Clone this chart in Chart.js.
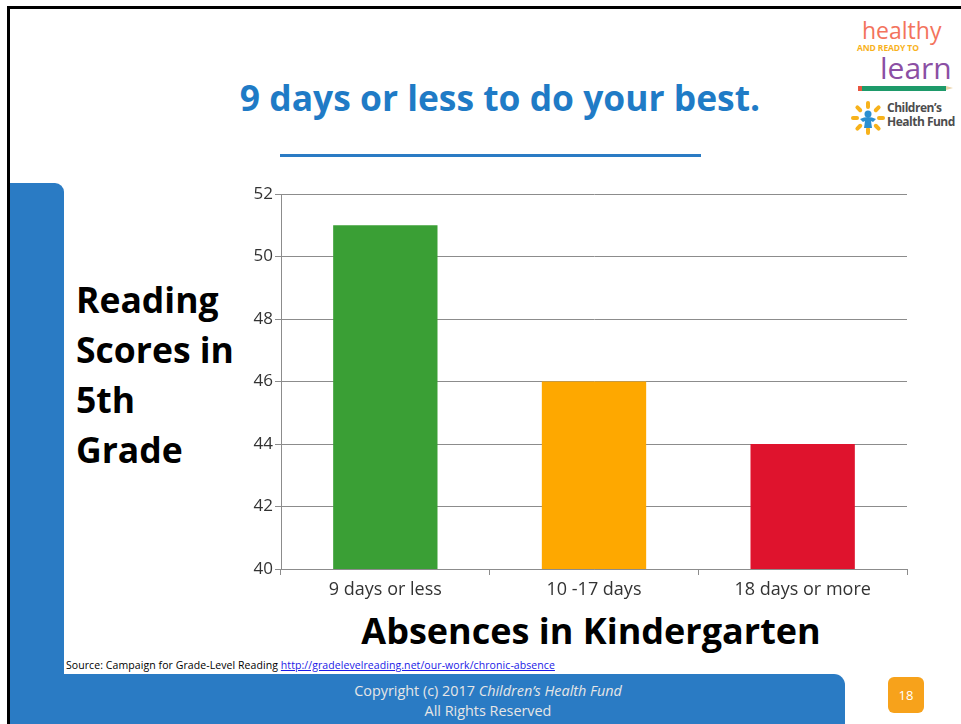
<!DOCTYPE html>
<html>
<head>
<meta charset="utf-8">
<script src="https://cdn.jsdelivr.net/npm/chart.js@4.4.1/dist/chart.umd.min.js"></script>
<style>
  html, body { margin:0; padding:0; background:#fff; }
  body { width:961px; height:724px; position:relative; overflow:hidden; font-family:"Open Sans", sans-serif; }
  .abs { position:absolute; }
  #frameTop { left:7px; top:6px; width:954px; height:3px; background:#000; }
  #frameLeft { left:7px; top:6px; width:3px; height:718px; background:#000; }
  #leftPanel { left:10px; top:183px; width:54px; height:541px; background:#2a7bc4; border-top-right-radius:9px; }
  #bottomBar { left:10px; top:674px; width:835px; height:50px; background:#2a7bc4; border-top-right-radius:11px; }
  #title { left:150px; width:700px; top:73px; text-align:center; color:#1f7bc6; font-weight:700; font-size:35.4px; line-height:48px; }
  #titleRule { left:280px; top:154px; width:421px; height:3px; background:#2a7bc4; }
  #ylabel { left:76px; top:274px; color:#000; font-weight:700; font-size:35.5px; line-height:50px; }
  #xlabel { left:291px; width:600px; top:606px; text-align:center; color:#000; font-weight:700; font-size:36px; line-height:50px; }
  #source { left:66px; top:657px; font-size:10.5px; letter-spacing:0.08px; color:#000; white-space:nowrap; line-height:16px; }
  #source a { color:#1a1ae6; text-decoration:underline; }
  #copy { left:130px; width:716px; top:681px; text-align:center; color:#e6e6e6; font-size:14.4px; line-height:20px; }
  #pageNo { left:888px; top:677px; width:36px; height:36px; background:#f7a21b; border-radius:6px; color:#fff; font-size:13px; text-align:center; line-height:36px; }
  #chartWrap { left:200px; top:180px; width:720px; height:480px; }
  #logo1 { left:862px; top:14px; font-size:23px; color:#f3735d; line-height:32px; }
  #logo2 { left:857px; top:43px; font-size:8.5px; font-weight:700; color:#f8b21c; line-height:10px; letter-spacing:-0.1px; }
  #logo3 { left:880px; top:48px; font-size:30px; color:#8b4fa4; line-height:40px; }
  #pencil { left:862px; top:86px; width:84px; height:5px; background:#1e9a6a; }
  #pencilTip { left:858px; top:86px; width:5px; height:5px; background:#e8553f; }
  #pencilEnd { left:946px; top:86px; width:0; height:0; border-top:2.5px solid transparent; border-bottom:2.5px solid transparent; border-left:7px solid #e9d3a8; }
  #chf { left:887px; top:101px; font-size:12px; font-weight:700; color:#4d4d4d; line-height:14px; letter-spacing:-0.5px; }
</style>
</head>
<body>
<div class="abs" id="frameTop"></div>
<div class="abs" id="frameLeft"></div>
<div class="abs" id="leftPanel"></div>
<div class="abs" id="bottomBar"></div>
<div class="abs" id="title">9 days or less to do your best.</div>
<div class="abs" id="titleRule"></div>
<div class="abs" id="ylabel">Reading<br>Scores in<br>5th<br>Grade</div>
<div class="abs" id="xlabel">Absences in Kindergarten</div>
<div class="abs" id="source">Source: Campaign for Grade-Level Reading <a>http://gradelevelreading.net/our-work/chronic-absence</a></div>
<div class="abs" id="copy">Copyright (c) 2017 <i>Children’s Health Fund</i><br>All Rights Reserved</div>
<div class="abs" id="pageNo">18</div>

<div class="abs" id="logo1">healthy</div>
<div class="abs" id="logo2">AND READY TO</div>
<div class="abs" id="logo3">learn</div>
<div class="abs" id="pencilTip"></div>
<div class="abs" id="pencil"></div>
<div class="abs" id="pencilEnd"></div>
<svg class="abs" style="left:851px;top:101px" width="34" height="34" viewBox="0 0 34 34">
  <g fill="#f7b21b">
    <rect x="15" y="0" width="4" height="8" rx="2"/>
    <rect x="15" y="26" width="4" height="8" rx="2"/>
    <rect x="0" y="15" width="8" height="4" rx="2"/>
    <rect x="26" y="15" width="8" height="4" rx="2"/>
    <rect x="15" y="0" width="4" height="8" rx="2" transform="rotate(45 17 17)"/>
    <rect x="15" y="0" width="4" height="8" rx="2" transform="rotate(-45 17 17)"/>
    <rect x="15" y="26" width="4" height="8" rx="2" transform="rotate(45 17 17)"/>
    <rect x="15" y="26" width="4" height="8" rx="2" transform="rotate(-45 17 17)"/>
  </g>
  <circle cx="17" cy="13" r="3.5" fill="#2b8fd0"/>
  <path d="M9 18 Q17 14 25 18 L22 21 L20 20 L21 27 L13 27 L14 20 L12 21 Z" fill="#2b8fd0"/>
</svg>
<div class="abs" id="chf">Children’s<br>Health Fund</div>

<div class="abs" id="chartWrap"><canvas id="c" width="720" height="480"></canvas></div>

<script>
const categories = ["9 days or less", "10 -17 days", "18 days or more"];
const readingScores = [51, 46, 44];
const barColors = ["#3a9f35", "#fea800", "#df132d"];
const yTicks = [40, 42, 44, 46, 48, 50, 52];

const tickFont = { family: "Open Sans", size: 17 };

new Chart(document.getElementById("c"), {
  type: "bar",
  data: {
    labels: categories,
    datasets: [{
      data: readingScores,
      backgroundColor: barColors,
      borderWidth: 0,
      categoryPercentage: 1.0,
      barPercentage: 0.5
    }]
  },
  options: {
    responsive: false,
    animation: false,
    layout: { padding: { top: 14, right: 13, left: 0, bottom: 0 } },
    plugins: { legend: { display: false }, tooltip: { enabled: false }, title: { display: false } },
    scales: {
      y: {
        min: yTicks[0],
        max: yTicks[yTicks.length - 1],
        afterBuildTicks: (s) => { s.ticks = yTicks.map(v => ({ value: v })); },
        afterFit: (s) => { s.width = 81; },
        ticks: { color: "#333333", font: tickFont, padding: 2 },
        grid: { color: "#8c8c8c", lineWidth: 1, tickLength: 6, drawTicks: true },
        border: { color: "#8c8c8c", width: 1 }
      },
      x: {
        afterFit: (s) => { s.height = 91; },
        ticks: { color: "#333333", font: { family: "Open Sans", size: 18 }, padding: 4 },
        grid: { drawOnChartArea: false, color: "#8c8c8c", tickLength: 6, offset: true },
        border: { color: "#8c8c8c", width: 1 }
      }
    }
  }
});
</script>
</body>
</html>
